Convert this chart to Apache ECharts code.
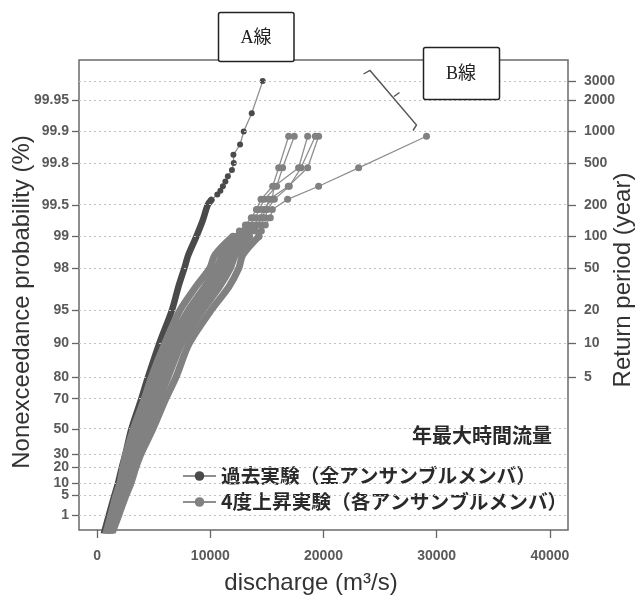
<!DOCTYPE html>
<html>
<head>
<meta charset="utf-8">
<script src="https://cdn.jsdelivr.net/npm/echarts@6/dist/echarts.min.js"></script>
<style>
  html, body { margin: 0; padding: 0; background: #fff; }
  #chart { width: 635px; height: 604px; }
</style>
</head>
<body>
<div id="chart"></div>
<script>
// ---- axis ticks ----
const probTicks = [1, 5, 10, 20, 30, 50, 70, 80, 90, 95, 98, 99, 99.5, 99.8, 99.9, 99.95]; // nonexceedance (%)
const returnTicks = [5, 10, 20, 50, 100, 200, 500, 1000, 2000, 3000];                        // return period (year)
const dischargeTicks = [0, 10000, 20000, 30000, 40000];                                      // m3/s

// ---- past climate run (all members pooled) ----
const pastBodyProb = [0.1, 1, 5, 10, 20, 30, 50, 70, 80, 90, 95, 97, 98, 98.5, 99, 99.3, 99.5, 99.55];
const pastBodyQ    = [600, 1040, 1530, 1840, 2190, 2500, 3030, 3910, 4490, 5500, 6600, 7180, 7710, 8060, 8770, 9340, 9780, 10090];
const pastTailProb = [99.55, 99.6, 99.633, 99.667, 99.7, 99.733, 99.767, 99.8, 99.833, 99.867, 99.9, 99.933, 99.967];
const pastTailQ    = [10090, 10620, 10890, 11110, 11330, 11550, 11910, 12070, 12040, 12630, 12950, 13660, 14630];

// ---- +4K run, one curve per member ----
const warmBodyProb = [0.1, 1, 5, 10, 20, 30, 50, 70, 80, 90, 95, 97, 98, 98.5, 99];
const warm1Body = [780, 1220, 1660, 2010, 2280, 2540, 3210, 4180, 4790, 5990, 7310, 8720, 9960, 10400, 11990];
const warm2Body = [910, 1400, 1880, 2280, 2590, 2900, 3650, 4620, 5280, 6470, 8060, 9520, 10580, 11060, 12300];
const warm3Body = [1040, 1530, 2060, 2450, 2850, 3210, 4040, 5060, 5770, 6960, 8640, 10090, 11110, 11590, 12830];
const warm4Body = [1170, 1700, 2280, 2720, 3120, 3510, 4440, 5500, 6250, 7490, 9300, 10800, 11770, 12210, 13450];
const warm5Body = [1090, 1620, 2150, 2590, 2980, 3340, 4220, 5280, 5990, 7180, 8940, 10450, 11420, 11900, 13090];
const warm6Body = [1310, 1920, 2540, 2980, 3430, 3870, 4930, 6070, 6960, 8150, 10050, 11640, 12520, 12870, 14290];

const warmTailProb = [99, 99.112, 99.223, 99.334, 99.445, 99.556, 99.667, 99.778, 99.889];
const warm1Tail = [11990, 12570, 13100, 13620, 14070, 14480, 15510, 16040, 16920];
const warm2Tail = [12300, 12920, 13360, 13980, 14330, 14770, 15860, 16390, 17420];
const warm3Tail = [12830, 13360, 13800, 14420, 14680, 15450, 15660, 17800, 18600];
const warm4Tail = [13450, 13980, 14420, 14860, 15040, 15660, 16980, 18010, 19280];
const warm5Tail = [13090, 13620, 14070, 14600, 14860, 15210, 16890, 18600, 19570];
const warm6Tail = [14290, 14510, 14860, 15300, 15480, 16830, 19570, 23100, 29100];

// ---- labels ----
const PAST = '過去実験（全アンサンブルメンバ）';
const WARM = '4度上昇実験（各アンサンブルメンバ）';

// Gumbel reduced variate of a nonexceedance probability given in percent
const gumbel = p => -Math.log(-Math.log(p / 100));
const returnToProb = t => 100 - 100 / t;
const toPoints = (qs, ps) => qs.map((q, i) => [q, gumbel(ps[i])]);

const Y_MIN = -1.857, Y_MAX = 8.48;
const DARK = '#4a4a4a', LIGHT = '#818181', LINK = '#8f8f8f';
const SANS = '"Liberation Sans", Arial, sans-serif';
const CJK = '"Noto Sans CJK JP", sans-serif';
const TICK_LABEL = { fontSize: 14, fontWeight: 'bold', color: '#5a5a5a', fontFamily: SANS };

const leftTickVals = probTicks.map(gumbel);
const rightTickVals = returnTicks.map(t => gumbel(returnToProb(t)));
const gridVals = leftTickVals.concat([gumbel(returnToProb(3000))]);

function nearestLabel(vals, labels, v) {
  let best = 0;
  for (let i = 1; i < vals.length; i++) {
    if (Math.abs(vals[i] - v) < Math.abs(vals[best] - v)) best = i;
  }
  return String(labels[best]);
}

const tailStyle = (name, color, pts, z, size) => ({
  type: 'line', name, data: pts, z,
  symbol: 'circle', symbolSize: size, showSymbol: true,
  itemStyle: { color },
  lineStyle: { color: LINK, width: 1.3 },
  emphasis: { disabled: true }, silent: true, clip: true
});
const bodyStyle = (name, color, pts, z, width) => ({
  type: 'line', name, data: pts, z, smooth: 0.3,
  symbol: 'none', showSymbol: false,
  itemStyle: { color },
  lineStyle: { color, width, cap: 'round', join: 'round' },
  emphasis: { disabled: true }, silent: true, clip: true
});

const warmBodies = [warm1Body, warm2Body, warm3Body, warm4Body, warm5Body, warm6Body];
const warmTails = [warm1Tail, warm2Tail, warm3Tail, warm4Tail, warm5Tail, warm6Tail];

const series = [];
series.push(tailStyle(PAST, DARK, toPoints(pastTailQ, pastTailProb), 4, 6));
warmTails.forEach(t => series.push(tailStyle(WARM, LIGHT, toPoints(t, warmTailProb), 6, 7)));
series.push(bodyStyle(PAST, DARK, toPoints(pastBodyQ, pastBodyProb), 3, 6.5));
warmBodies.forEach(b => series.push(bodyStyle(WARM, LIGHT, toPoints(b, warmBodyProb), 5, 7)));
// dotted reference lines at every probability / return-period tick
series.push({
  type: 'line', name: 'gridlines', data: [], z: 1, silent: true,
  markLine: {
    silent: true, symbol: ['none', 'none'], label: { show: false },
    lineStyle: { type: [2, 3], color: '#c2c2c2', width: 1 },
    emphasis: { disabled: true },
    data: gridVals.map(v => ({ yAxis: v }))
  }
});

const chart = echarts.init(document.getElementById('chart'), null, { renderer: 'canvas' });
chart.setOption({
  animation: false,
  backgroundColor: '#fff',
  grid: { left: 79, right: 67, top: 60, bottom: 74, show: true, borderColor: '#6a6a6a', borderWidth: 1.5, backgroundColor: 'transparent' },
  xAxis: {
    type: 'value', min: -1600, max: 41600,
    axisLine: { show: false, onZero: false }, splitLine: { show: false },
    axisTick: { show: true, length: 8, lineStyle: { color: '#666', width: 1.3 }, customValues: dischargeTicks },
    axisLabel: Object.assign({ customValues: dischargeTicks, margin: 19, formatter: v => String(Math.round(v)) }, TICK_LABEL)
  },
  yAxis: [
    {
      type: 'value', position: 'left', min: Y_MIN, max: Y_MAX,
      axisLine: { show: false, onZero: false }, splitLine: { show: false },
      axisTick: { show: true, length: 7, lineStyle: { color: '#666', width: 1.3 }, customValues: leftTickVals },
      axisLabel: Object.assign({
        customValues: leftTickVals, margin: 10,
        formatter: v => nearestLabel(leftTickVals, probTicks, v)
      }, TICK_LABEL)
    },
    {
      type: 'value', position: 'right', min: Y_MIN, max: Y_MAX,
      axisLine: { show: false, onZero: false }, splitLine: { show: false },
      axisTick: { show: true, length: 8, lineStyle: { color: '#666', width: 1.3 }, customValues: rightTickVals },
      axisLabel: Object.assign({
        customValues: rightTickVals, margin: 16,
        formatter: v => nearestLabel(rightTickVals, returnTicks, v)
      }, TICK_LABEL)
    }
  ],
  legend: {
    data: [PAST, WARM], orient: 'vertical', left: 182, top: 466, padding: 0,
    itemWidth: 33, itemHeight: 12, itemGap: 6, selectedMode: false,
    textStyle: { fontSize: 19.7, lineHeight: 20, fontWeight: 'bold', fontFamily: CJK, color: '#2a2a2a' }
  },
  series,
  graphic: [
    { type: 'text', x: 22, y: 302, rotation: Math.PI / 2, silent: true,
      style: { text: 'Nonexceedance probability (%)', font: '24px ' + SANS, fill: '#333', align: 'center', verticalAlign: 'middle', textAlign: 'center', textVerticalAlign: 'middle' } },
    { type: 'text', x: 623, y: 280, rotation: Math.PI / 2, silent: true,
      style: { text: 'Return period (year)', font: '24px ' + SANS, fill: '#333', align: 'center', verticalAlign: 'middle', textAlign: 'center', textVerticalAlign: 'middle' } },
    { type: 'text', x: 311, y: 583, silent: true,
      style: { text: 'discharge (m³/s)', font: '24px ' + SANS, fill: '#333', align: 'center', verticalAlign: 'middle', textAlign: 'center', textVerticalAlign: 'middle' } },
    { type: 'text', x: 552, y: 435, silent: true, z: 50,
      style: { text: '年最大時間流量', font: 'bold 20px ' + CJK, fill: '#2a2a2a', align: 'right', verticalAlign: 'middle', textAlign: 'right', textVerticalAlign: 'middle' } },
    // callout boxes naming the two lines
    { type: 'rect', silent: true, z: 100, shape: { x: 218.5, y: 12.5, width: 75.5, height: 49, r: 2 },
      style: { fill: '#fff', stroke: '#222', lineWidth: 1.5 } },
    { type: 'text', x: 256, y: 38, silent: true, z: 101,
      style: { text: 'A線', font: '18px "Liberation Serif", ' + CJK, fill: '#222', align: 'center', verticalAlign: 'middle', textAlign: 'center', textVerticalAlign: 'middle' } },
    { type: 'rect', silent: true, z: 100, shape: { x: 423.5, y: 47.5, width: 76, height: 52, r: 2 },
      style: { fill: '#fff', stroke: '#222', lineWidth: 1.5 } },
    { type: 'text', x: 461, y: 74, silent: true, z: 101,
      style: { text: 'B線', font: '18px "Liberation Serif", ' + CJK, fill: '#222', align: 'center', verticalAlign: 'middle', textAlign: 'center', textVerticalAlign: 'middle' } },
    // brace pointing at the B line segment
    { type: 'polyline', silent: true, z: 100, shape: { points: [[363.5, 74], [370, 70.5], [416.5, 125], [413, 130.5]] },
      style: { fill: 'none', stroke: '#555', lineWidth: 1.4 } },
    { type: 'polyline', silent: true, z: 100, shape: { points: [[394, 96.5], [399.5, 92.5]] },
      style: { fill: 'none', stroke: '#555', lineWidth: 1.4 } }
  ]
});
</script>
</body>
</html>
